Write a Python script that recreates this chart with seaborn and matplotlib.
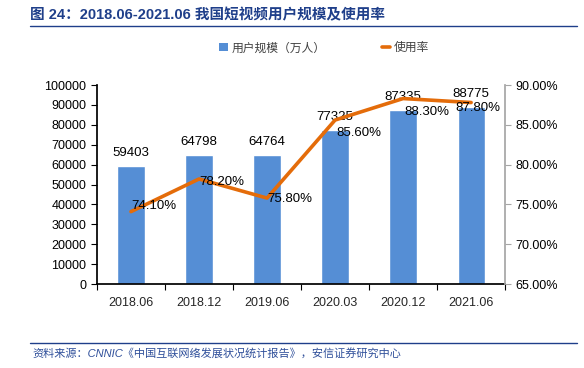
import numpy as np
import pandas as pd
import matplotlib
matplotlib.use('Agg')
import matplotlib.pyplot as plt
import seaborn as sns
from matplotlib.lines import Line2D
from matplotlib.patches import Patch

# data
dates = ['2018.06', '2018.12', '2019.06', '2020.03', '2020.12', '2021.06']
users = [59403, 64798, 64764, 77325, 87335, 88775]   # 万人
usage_rate = [74.10, 78.20, 75.80, 85.60, 88.30, 87.80]  # %

# label nudges (points) for the rate labels, as placed in the original
rate_dx = [0, 0, 0, 1, 1, -11]
rate_dy = [4, -2, -1, -9, -10, -4]

bar_color = '#558ED5'
line_color = '#E46C0A'
title_color = '#1F3F8A'

sns.set_theme(style='white')
plt.rcParams['font.family'] = ['Liberation Sans', 'Noto Sans CJK SC', 'DejaVu Sans']
cjk = ['Noto Sans CJK SC', 'DejaVu Sans']

df = pd.DataFrame({'date': dates, 'users': users, 'rate': usage_rate})

fig = plt.figure(figsize=(5.84, 3.68), dpi=100)
ax = fig.add_axes([0.166, 0.228, 0.699, 0.541])

sns.barplot(data=df, x='date', y='users', color=bar_color, width=0.4,
            saturation=1, ax=ax)
ax.set_ylim(0, 100000)
ax.set_yticks(np.arange(0, 100001, 10000))
ax.set_xlim(-0.5, len(dates) - 0.5)
ax.set_xlabel('')
ax.set_ylabel('')
for i, v in enumerate(users):
    ax.annotate(str(v), (i, v), xytext=(0, 5), textcoords='offset points',
                ha='center', va='bottom', fontsize=9.5, color='black')

ax2 = ax.twinx()
xpos = np.arange(len(dates))
sns.lineplot(x=xpos, y=usage_rate, color=line_color, linewidth=2.6, ax=ax2)
ax2.set_ylim(65, 90)
ax2.set_yticks(np.arange(65, 90.1, 5))
ax2.set_yticklabels([f'{t:.2f}%' for t in np.arange(65, 90.1, 5)])
for i, v in enumerate(usage_rate):
    ax2.annotate(f'{v:.2f}%', (i, v), xytext=(rate_dx[i], rate_dy[i]),
                 textcoords='offset points', ha='left', va='center',
                 fontsize=9.5, color='black')

# spines and ticks
for a in (ax, ax2):
    a.spines['top'].set_visible(False)
ax.spines['right'].set_visible(False)
ax2.spines['left'].set_visible(False)
ax2.spines['bottom'].set_visible(False)
ax.spines['left'].set_color('black')
ax.spines['bottom'].set_color('black')
ax2.spines['right'].set_color('#A6A6A6')
ax.tick_params(axis='y', direction='out', length=4, width=0.8, colors='black',
               labelsize=9, left=True)
ax.tick_params(axis='x', length=0, labelsize=9, pad=9)
ax2.tick_params(axis='y', direction='out', length=4, width=0.8, color='#A6A6A6',
                labelcolor='black', labelsize=9, right=True)
ax.set_xticks(np.arange(-0.5, len(dates)), minor=True)
ax.tick_params(axis='x', which='minor', direction='out', length=4, width=0.8,
               color='black', bottom=True)
ax.grid(False)
ax2.grid(False)

# legend
handles = [Patch(facecolor=bar_color, edgecolor='none'),
           Line2D([0], [0], color=line_color, linewidth=2.6)]
fig.legend(handles, ['用户规模（万人）', '使用率'], loc='center',
           bbox_to_anchor=(0.555, 0.87), ncol=2, frameon=False,
           prop={'family': cjk, 'size': 8.5}, labelcolor='#404040',
           handlelength=0.7, handleheight=0.7, columnspacing=4.8,
           handletextpad=0.3)

# title and footer
fig.text(0.052, 0.958, '图 24：2018.06-2021.06 我国短视频用户规模及使用率',
         fontsize=10.5, fontweight='bold', color=title_color, va='center',
         family=['Liberation Sans', 'Noto Sans CJK SC'])
fig.add_artist(Line2D([0.052, 0.988], [0.928, 0.928], color=title_color,
                      linewidth=1.0, transform=fig.transFigure))
fig.add_artist(Line2D([0.052, 0.988], [0.068, 0.068], color=title_color,
                      linewidth=1.0, transform=fig.transFigure))
fig.text(0.055, 0.040,
         '资料来源：CNNIC《中国互联网络发展状况统计报告》，安信证券研究中心',
         fontsize=8, style='italic', color='#2F4F9A', va='center',
         family=['Liberation Sans', 'Noto Sans CJK SC'])

fig.savefig('out.png', dpi=100)
